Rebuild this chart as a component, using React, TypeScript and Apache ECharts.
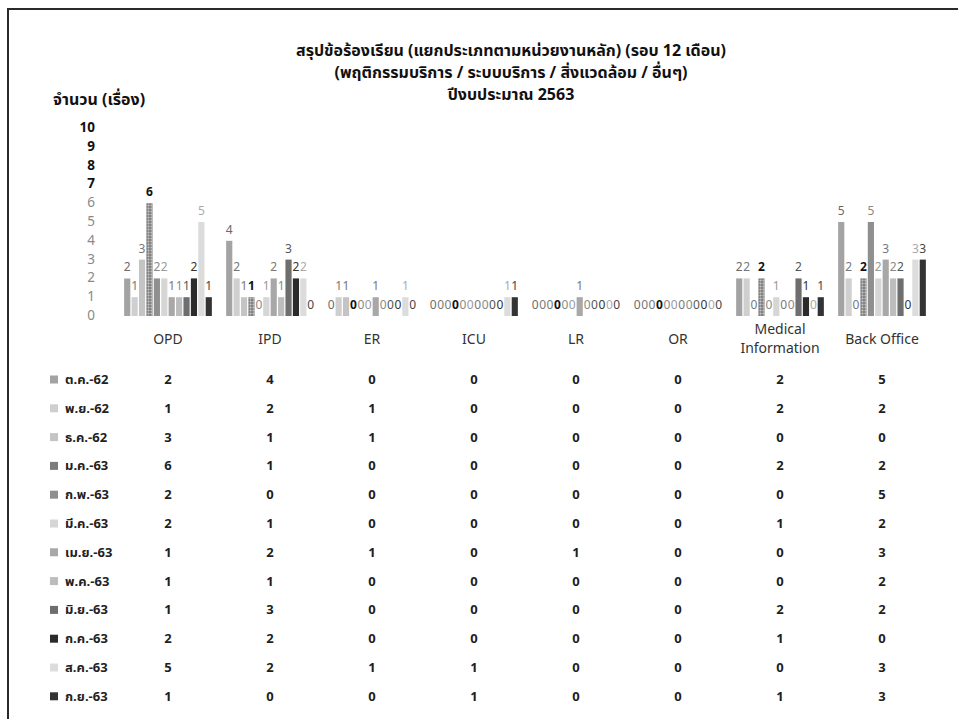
import React, { useEffect, useRef } from "react";
import * as echarts from "echarts";

const titleLines = [
  "สรุปข้อร้องเรียน (แยกประเภทตามหน่วยงานหลัก) (รอบ 12 เดือน)",
  "(พฤติกรรมบริการ / ระบบบริการ / สิ่งแวดล้อม / อื่นๆ)",
  "ปีงบประมาณ 2563",
];
const yAxisTitle = "จำนวน (เรื่อง)";
const categories = ["OPD", "IPD", "ER", "ICU", "LR", "OR", "Medical\nInformation", "Back Office"];
const months = [
  "ต.ค.-62", "พ.ย.-62", "ธ.ค.-62", "ม.ค.-63", "ก.พ.-63", "มี.ค.-63",
  "เม.ย.-63", "พ.ค.-63", "มิ.ย.-63", "ก.ค.-63", "ส.ค.-63", "ก.ย.-63",
];
const yTicks = [0, 1, 2, 3, 4, 5, 6, 7, 8, 9, 10];

// values per month: OPD, IPD, ER, ICU, LR, OR, Medical Information, Back Office
const oct62 = [2, 4, 0, 0, 0, 0, 2, 5];
const nov62 = [1, 2, 1, 0, 0, 0, 2, 2];
const dec62 = [3, 1, 1, 0, 0, 0, 0, 0];
const jan63 = [6, 1, 0, 0, 0, 0, 2, 2];
const feb63 = [2, 0, 0, 0, 0, 0, 0, 5];
const mar63 = [2, 1, 0, 0, 0, 0, 1, 2];
const apr63 = [1, 2, 1, 0, 1, 0, 0, 3];
const may63 = [1, 1, 0, 0, 0, 0, 0, 2];
const jun63 = [1, 3, 0, 0, 0, 0, 2, 2];
const jul63 = [2, 2, 0, 0, 0, 0, 1, 0];
const aug63 = [5, 2, 1, 1, 0, 0, 0, 3];
const sep63 = [1, 0, 0, 1, 0, 0, 1, 3];
const monthValues = [oct62, nov62, dec62, jan63, feb63, mar63, apr63, may63, jun63, jul63, aug63, sep63];

// styles
const barColors = [
  "#a3a3a3", "#cfcfcf", "#c4c4c4", "#7c7c7c", "#8f8f8f", "#d6d6d6",
  "#a8a8a8", "#bdbdbd", "#6e6e6e", "#2b2b2b", "#dcdcdc", "#333333",
];
const labelColors = [
  "#6a6a6a", "#777777", "#777777", "#111111", "#888888", "#999999",
  "#777777", "#888888", "#555555", "#333333", "#aaaaaa", "#444444",
];
const FONT = 'Tahoma, "Noto Sans Thai", "Noto Sans", "DejaVu Sans", sans-serif';

const GRID_LEFT = 117;
const GRID_WIDTH = 816;
const GRID_TOP = 128;
const GRID_HEIGHT = 188;
const GRID_BOTTOM_Y = GRID_TOP + GRID_HEIGHT;
const HEADER_Y = 339;
const ROW0_Y = 380;
const ROW_STEP = 28.8;
const TITLE_X = 511;
const TITLE_Y0 = 51;
const TITLE_STEP = 22;

export default function App() {
  const ref = useRef<HTMLDivElement>(null);
  useEffect(() => {
    if (!ref.current) return;
    const chart = echarts.init(ref.current, undefined, { renderer: "svg" });

    const rowY = months.map((_, i) => ROW0_Y + i * ROW_STEP);

    const tableAxes = months.map((_, r) => ({
      type: "category",
      gridIndex: 0,
      position: "bottom",
      data: categories,
      offset: rowY[r] - GRID_BOTTOM_Y,
      axisLine: { show: false },
      axisTick: { show: false },
      axisLabel: {
        interval: 0,
        margin: 0,
        verticalAlign: "middle",
        fontFamily: FONT,
        fontSize: 13,
        fontWeight: "bold",
        color: "#1e1e1e",
        formatter: (_v: string, i: number) => String(monthValues[r][i]),
      },
    }));

    const series = months.map((m, s) => ({
      type: "bar",
      name: m,
      xAxisIndex: 0,
      yAxisIndex: 0,
      data: monthValues[s],
      barCategoryGap: "14%",
      barGap: "20%",
      itemStyle: {
        color: barColors[s],
        decal:
          s === 3
            ? {
                symbol: "circle",
                symbolSize: 0.7,
                color: "rgba(255,255,255,0.55)",
                dashArrayX: [3, 0],
                dashArrayY: [3, 0],
                rotation: 0,
              }
            : undefined,
      },
      label: {
        show: true,
        position: "top",
        distance: 5,
        fontFamily: FONT,
        fontSize: 12,
        fontWeight: s === 3 ? "bold" : "normal",
        color: labelColors[s],
      },
    }));

    const graphics: any[] = [
      {
        type: "rect",
        shape: { x: 8, y: 9, width: 1100, height: 900 },
        style: { fill: "none", stroke: "#2a2a2a", lineWidth: 2 },
        silent: true,
      },
      {
        type: "text",
        x: 53,
        y: 100,
        style: {
          text: yAxisTitle,
          fontFamily: FONT,
          fontSize: 16,
          fontWeight: "bold",
          fill: "#111",
          textVerticalAlign: "middle",
          verticalAlign: "middle",
        },
      },
    ];
    titleLines.forEach((t, i) => {
      graphics.push({
        type: "text",
        x: TITLE_X,
        y: TITLE_Y0 + i * TITLE_STEP,
        style: {
          text: t,
          fontFamily: FONT,
          fontSize: 16,
          fontWeight: "bold",
          fill: "#111",
          align: "center",
          textAlign: "center",
          verticalAlign: "middle",
          textVerticalAlign: "middle",
        },
      });
    });
    months.forEach((m, i) => {
      graphics.push({
        type: "rect",
        shape: { x: 50, y: rowY[i] - 4.5, width: 8, height: 8 },
        style: { fill: barColors[i] },
      });
      graphics.push({
        type: "text",
        x: 65,
        y: rowY[i],
        style: {
          text: m,
          fontFamily: FONT,
          fontSize: 13,
          fontWeight: "bold",
          fill: "#222",
          verticalAlign: "middle",
          textVerticalAlign: "middle",
        },
      });
    });

    chart.setOption({
      animation: false,
      backgroundColor: "#ffffff",
      grid: {
        left: GRID_LEFT,
        top: GRID_TOP,
        width: GRID_WIDTH,
        height: GRID_HEIGHT,
        containLabel: false,
        outerBoundsMode: "none",
      },
      xAxis: [
        {
          type: "category",
          gridIndex: 0,
          position: "bottom",
          data: categories,
          axisLine: { show: false },
          axisTick: { show: false },
          axisLabel: {
            interval: 0,
            margin: HEADER_Y - GRID_BOTTOM_Y,
            verticalAlign: "middle",
            fontFamily: FONT,
            fontSize: 14,
            lineHeight: 19,
            color: "#333",
          },
        },
        ...tableAxes,
      ],
      yAxis: {
        type: "value",
        min: 0,
        max: 10,
        interval: 1,
        axisLine: { show: false },
        axisTick: { show: false },
        splitLine: { show: false },
        axisLabel: {
          margin: 22,
          lineHeight: 15,
          formatter: (v: number) => (yTicks.indexOf(v) >= 7 ? `{b|${v}}` : `{g|${v}}`),
          rich: {
            b: { fontFamily: FONT, fontSize: 13.5, fontWeight: "bold", color: "#111", lineHeight: 15 },
            g: { fontFamily: FONT, fontSize: 13.5, color: "#8a8a8a", lineHeight: 15 },
          },
        },
      },
      graphic: graphics,
      series,
    });
    return () => chart.dispose();
  }, []);
  return (
    <div
      ref={ref}
      style={{ position: "absolute", left: 0, top: 0, width: 958, height: 719, background: "#fff" }}
    />
  );
}
